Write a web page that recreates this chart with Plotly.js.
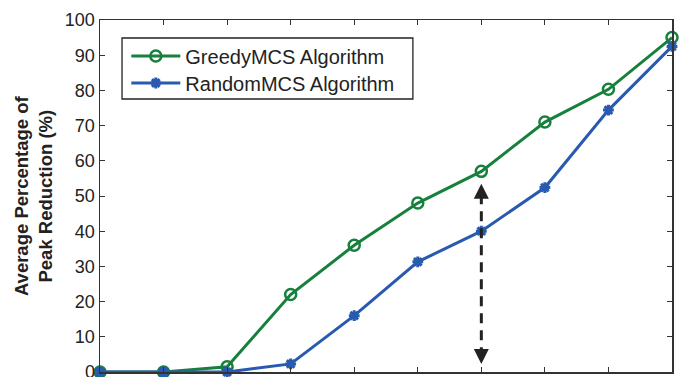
<!DOCTYPE html>
<html>
<head>
<meta charset="utf-8">
<script src="https://cdn.plot.ly/plotly-3.0.1.min.js"></script>
<style>html,body{margin:0;padding:0;background:#fff;}#chart{width:683px;height:377px;}</style>
</head>
<body>
<div id="chart"></div>
<script>
const xValues = [0, 1, 2, 3, 4, 5, 6, 7, 8, 9];
const greedyValues = [0, 0, 1.5, 22, 36, 48, 57, 71, 80.3, 95];
const randomValues = [0, 0, 0, 2.3, 16, 31.3, 40, 52.4, 74.4, 92.5];
const seriesNames = ["GreedyMCS Algorithm", "RandomMCS Algorithm"];
const yTickValues = [0, 10, 20, 30, 40, 50, 60, 70, 80, 90, 100];
const arrowX = 6;
const arrowTop = 53.5;
const arrowBottom = 2.3;

const green = "rgb(22,128,60)";
const blue = "rgb(40,90,176)";

const traces = [
  {
    x: xValues, y: greedyValues, name: seriesNames[0], type: "scatter", mode: "lines+markers",
    line: {color: green, width: 3}, legend: "legend",
    marker: {symbol: "circle-open", size: 11, color: green, line: {color: green, width: 2.5}},
    cliponaxis: false
  },
  {
    x: xValues, y: randomValues, name: seriesNames[1], type: "scatter", mode: "lines+markers",
    line: {color: blue, width: 3}, legend: "legend2",
    marker: {symbol: "asterisk-open", size: 9, color: blue, line: {color: blue, width: 3}},
    cliponaxis: false
  }
];

const axisCommon = {
  showgrid: false, zeroline: false, showline: true, linecolor: "#333", linewidth: 1.5,
  ticks: "inside", ticklen: 5, tickcolor: "#333", tickwidth: 1, mirror: "ticks"
};

const legendCommon = {
  xanchor: "left", yanchor: "middle", borderwidth: 0, bgcolor: "rgba(0,0,0,0)",
  font: {size: 20, color: "#222"}, itemwidth: 49
};

const layout = {
  width: 683, height: 377,
  margin: {l: 100, r: 11, t: 20, b: 5},
  paper_bgcolor: "#fff", plot_bgcolor: "#fff",
  font: {family: "Liberation Sans, Arial, sans-serif", color: "#222"},
  showlegend: true,
  legend: Object.assign({}, legendCommon, {x: 0.046, y: 0.8977}),
  legend2: Object.assign({}, legendCommon, {x: 0.046, y: 0.821}),
  xaxis: Object.assign({}, axisCommon, {
    range: [0, 9], tickvals: xValues, showticklabels: false
  }),
  yaxis: Object.assign({}, axisCommon, {
    range: [0, 100], tickvals: yTickValues, ticktext: yTickValues.map(String),
    tickfont: {size: 18, color: "#222"}, ticklabeloverflow: "allow"
  }),
  shapes: [
    {type: "line", xref: "x", yref: "y", x0: arrowX, x1: arrowX, y0: arrowTop - 3, y1: arrowBottom + 3,
     line: {color: "#222", width: 3, dash: "10px,7px"}},
    {type: "rect", xref: "paper", yref: "paper", x0: 0.0385, x1: 0.547, y0: 0.7756, y1: 0.9489,
     layer: "above", fillcolor: "#fff", line: {color: "#222", width: 1.3}}
  ],
  annotations: [
    {xref: "paper", yref: "paper", x: -0.117, y: 0.5, xanchor: "center", yanchor: "middle",
     text: "<b>Average Percentage of<br>Peak Reduction (%)</b>", textangle: -90, showarrow: false,
     font: {size: 18.5, color: "#222"}},
    {x: arrowX, y: arrowTop, xref: "x", yref: "y", ax: 0, ay: 14, axref: "pixel", ayref: "pixel",
     text: "", showarrow: true, arrowhead: 2, arrowsize: 1, arrowwidth: 3, arrowcolor: "#222"},
    {x: arrowX, y: arrowBottom, xref: "x", yref: "y", ax: 0, ay: -14, axref: "pixel", ayref: "pixel",
     text: "", showarrow: true, arrowhead: 2, arrowsize: 1, arrowwidth: 3, arrowcolor: "#222"}
  ]
};

Plotly.newPlot("chart", traces, layout, {displayModeBar: false, staticPlot: true});
</script>
</body>
</html>
